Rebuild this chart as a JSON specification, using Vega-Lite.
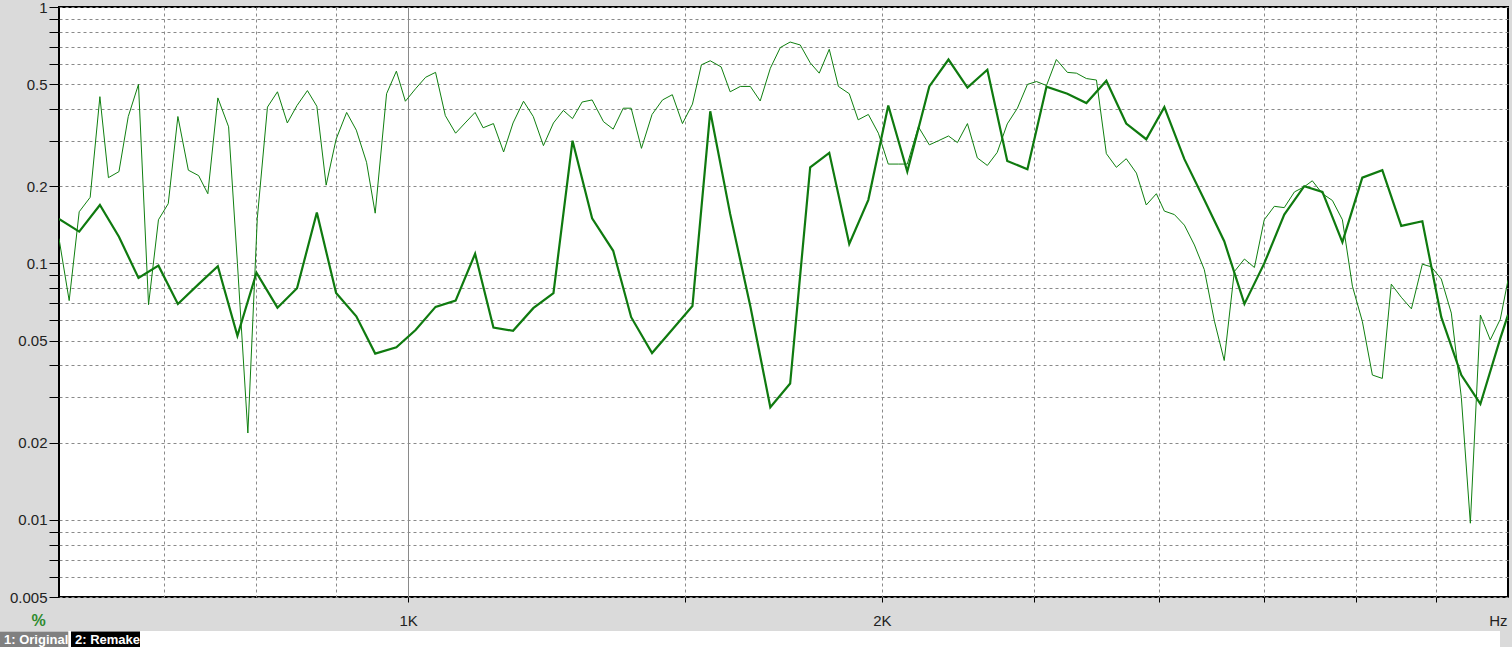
{
  "$schema": "https://vega.github.io/schema/vega-lite/v6.json",
  "width": 1449,
  "height": 590,
  "autosize": {"type": "none"},
  "padding": {"left": 59, "top": 7, "right": 4, "bottom": 50},
  "background": "#dadada",
  "config": {
    "view": {"fill": "#ffffff", "stroke": "#000000", "strokeWidth": 2},
    "legend": {
      "orient": "none",
      "legendX": -59,
      "legendY": 624,
      "direction": "horizontal",
      "titleOrient": "right",
      "titlePadding": 1360,
      "titleFontSize": 10,
      "padding": 0,
      "fillColor": "#ffffff",
      "columnPadding": 2,
      "symbolSize": 10404,
      "symbolType": "M-1.02,-0.157H0.98V0.157H-1.02Z",
      "symbolStrokeWidth": 0,
      "symbolOpacity": 1,
      "clipHeight": 17,
      "labelFont": "Liberation Sans",
      "labelFontSize": 13,
      "labelFontWeight": "bold",
      "labelColor": "#ffffff",
      "labelAlign": "left",
      "labelBaseline": "middle",
      "labelLimit": 300,
      "labelOffset": -98
    }
  },
  "data": {
    "values": [
      {"s":"Original","f":600,"v":0.125},{"s":"Original","f":609,"v":0.0716},{"s":"Original","f":618,"v":0.159},{"s":"Original","f":628,"v":0.181},{"s":"Original","f":637,"v":0.447},{"s":"Original","f":645,"v":0.216},{"s":"Original","f":655,"v":0.228},{"s":"Original","f":664,"v":0.374},{"s":"Original","f":674,"v":0.499},{"s":"Original","f":684,"v":0.069},{"s":"Original","f":694,"v":0.148},{"s":"Original","f":704,"v":0.171},{"s":"Original","f":714,"v":0.374},{"s":"Original","f":725,"v":0.231},{"s":"Original","f":736,"v":0.22},{"s":"Original","f":746,"v":0.187},{"s":"Original","f":757,"v":0.442},{"s":"Original","f":769,"v":0.341},{"s":"Original","f":779,"v":0.1},{"s":"Original","f":791,"v":0.0218},{"s":"Original","f":802,"v":0.15},{"s":"Original","f":814,"v":0.407},{"s":"Original","f":826,"v":0.467},{"s":"Original","f":838,"v":0.353},{"s":"Original","f":850,"v":0.413},{"s":"Original","f":863,"v":0.472},{"s":"Original","f":875,"v":0.41},{"s":"Original","f":887,"v":0.202},{"s":"Original","f":900,"v":0.305},{"s":"Original","f":914,"v":0.388},{"s":"Original","f":927,"v":0.331},{"s":"Original","f":941,"v":0.248},{"s":"Original","f":953,"v":0.157},{"s":"Original","f":969,"v":0.459},{"s":"Original","f":983,"v":0.562},{"s":"Original","f":996,"v":0.429},{"s":"Original","f":1011,"v":0.48},{"s":"Original","f":1026,"v":0.532},{"s":"Original","f":1041,"v":0.556},{"s":"Original","f":1056,"v":0.377},{"s":"Original","f":1072,"v":0.322},{"s":"Original","f":1087,"v":0.353},{"s":"Original","f":1103,"v":0.388},{"s":"Original","f":1116,"v":0.338},{"s":"Original","f":1133,"v":0.351},{"s":"Original","f":1150,"v":0.272},{"s":"Original","f":1166,"v":0.353},{"s":"Original","f":1184,"v":0.429},{"s":"Original","f":1201,"v":0.374},{"s":"Original","f":1219,"v":0.288},{"s":"Original","f":1237,"v":0.353},{"s":"Original","f":1255,"v":0.395},{"s":"Original","f":1272,"v":0.367},{"s":"Original","f":1290,"v":0.426},{"s":"Original","f":1309,"v":0.434},{"s":"Original","f":1331,"v":0.357},{"s":"Original","f":1350,"v":0.334},{"s":"Original","f":1370,"v":0.403},{"s":"Original","f":1386,"v":0.403},{"s":"Original","f":1407,"v":0.281},{"s":"Original","f":1429,"v":0.381},{"s":"Original","f":1451,"v":0.434},{"s":"Original","f":1472,"v":0.455},{"s":"Original","f":1494,"v":0.351},{"s":"Original","f":1516,"v":0.418},{"s":"Original","f":1536,"v":0.595},{"s":"Original","f":1556,"v":0.617},{"s":"Original","f":1581,"v":0.584},{"s":"Original","f":1602,"v":0.467},{"s":"Original","f":1626,"v":0.49},{"s":"Original","f":1650,"v":0.49},{"s":"Original","f":1674,"v":0.43},{"s":"Original","f":1699,"v":0.577},{"s":"Original","f":1724,"v":0.695},{"s":"Original","f":1749,"v":0.73},{"s":"Original","f":1775,"v":0.711},{"s":"Original","f":1801,"v":0.606},{"s":"Original","f":1825,"v":0.552},{"s":"Original","f":1852,"v":0.684},{"s":"Original","f":1877,"v":0.49},{"s":"Original","f":1907,"v":0.459},{"s":"Original","f":1932,"v":0.363},{"s":"Original","f":1961,"v":0.381},{"s":"Original","f":1990,"v":0.322},{"s":"Original","f":2019,"v":0.244},{"s":"Original","f":2049,"v":0.244},{"s":"Original","f":2076,"v":0.244},{"s":"Original","f":2110,"v":0.341},{"s":"Original","f":2144,"v":0.29},{"s":"Original","f":2173,"v":0.301},{"s":"Original","f":2205,"v":0.314},{"s":"Original","f":2234,"v":0.296},{"s":"Original","f":2267,"v":0.351},{"s":"Original","f":2300,"v":0.258},{"s":"Original","f":2334,"v":0.241},{"s":"Original","f":2368,"v":0.271},{"s":"Original","f":2403,"v":0.35},{"s":"Original","f":2439,"v":0.403},{"s":"Original","f":2475,"v":0.499},{"s":"Original","f":2508,"v":0.512},{"s":"Original","f":2545,"v":0.494},{"s":"Original","f":2582,"v":0.624},{"s":"Original","f":2624,"v":0.556},{"s":"Original","f":2659,"v":0.552},{"s":"Original","f":2698,"v":0.526},{"s":"Original","f":2738,"v":0.519},{"s":"Original","f":2778,"v":0.268},{"s":"Original","f":2819,"v":0.237},{"s":"Original","f":2860,"v":0.256},{"s":"Original","f":2903,"v":0.225},{"s":"Original","f":2945,"v":0.169},{"s":"Original","f":2989,"v":0.187},{"s":"Original","f":3024,"v":0.16},{"s":"Original","f":3069,"v":0.155},{"s":"Original","f":3114,"v":0.141},{"s":"Original","f":3160,"v":0.118},{"s":"Original","f":3206,"v":0.0946},{"s":"Original","f":3254,"v":0.0595},{"s":"Original","f":3301,"v":0.0418},{"s":"Original","f":3350,"v":0.0929},{"s":"Original","f":3400,"v":0.104},{"s":"Original","f":3450,"v":0.0964},{"s":"Original","f":3500,"v":0.148},{"s":"Original","f":3552,"v":0.167},{"s":"Original","f":3604,"v":0.165},{"s":"Original","f":3658,"v":0.19},{"s":"Original","f":3711,"v":0.199},{"s":"Original","f":3755,"v":0.21},{"s":"Original","f":3811,"v":0.187},{"s":"Original","f":3867,"v":0.176},{"s":"Original","f":3924,"v":0.148},{"s":"Original","f":3982,"v":0.0815},{"s":"Original","f":4040,"v":0.0595},{"s":"Original","f":4100,"v":0.0367},{"s":"Original","f":4160,"v":0.0356},{"s":"Original","f":4215,"v":0.083},{"s":"Original","f":4277,"v":0.0738},{"s":"Original","f":4341,"v":0.0665},{"s":"Original","f":4411,"v":0.0993},{"s":"Original","f":4469,"v":0.097},{"s":"Original","f":4535,"v":0.0869},{"s":"Original","f":4602,"v":0.064},{"s":"Original","f":4670,"v":0.03},{"s":"Original","f":4732,"v":0.0097},{"s":"Original","f":4802,"v":0.0629},{"s":"Original","f":4872,"v":0.0503},{"s":"Original","f":4944,"v":0.0606},{"s":"Original","f":5000,"v":0.086},
      {"s":"Remake","f":600,"v":0.149},{"s":"Remake","f":618,"v":0.133},{"s":"Remake","f":637,"v":0.169},{"s":"Remake","f":655,"v":0.127},{"s":"Remake","f":674,"v":0.0878},{"s":"Remake","f":694,"v":0.098},{"s":"Remake","f":714,"v":0.0695},{"s":"Remake","f":736,"v":0.083},{"s":"Remake","f":757,"v":0.0975},{"s":"Remake","f":779,"v":0.0522},{"s":"Remake","f":801,"v":0.092},{"s":"Remake","f":826,"v":0.0672},{"s":"Remake","f":850,"v":0.08},{"s":"Remake","f":875,"v":0.158},{"s":"Remake","f":900,"v":0.0766},{"s":"Remake","f":927,"v":0.0622},{"s":"Remake","f":953,"v":0.0445},{"s":"Remake","f":983,"v":0.0471},{"s":"Remake","f":1011,"v":0.055},{"s":"Remake","f":1041,"v":0.0677},{"s":"Remake","f":1072,"v":0.0716},{"s":"Remake","f":1103,"v":0.109},{"s":"Remake","f":1133,"v":0.0562},{"s":"Remake","f":1166,"v":0.0546},{"s":"Remake","f":1201,"v":0.0669},{"s":"Remake","f":1237,"v":0.0766},{"s":"Remake","f":1272,"v":0.301},{"s":"Remake","f":1309,"v":0.15},{"s":"Remake","f":1350,"v":0.112},{"s":"Remake","f":1386,"v":0.0617},{"s":"Remake","f":1429,"v":0.0447},{"s":"Remake","f":1472,"v":0.0552},{"s":"Remake","f":1516,"v":0.0682},{"s":"Remake","f":1556,"v":0.392},{"s":"Remake","f":1602,"v":0.156},{"s":"Remake","f":1650,"v":0.068},{"s":"Remake","f":1699,"v":0.0275},{"s":"Remake","f":1749,"v":0.034},{"s":"Remake","f":1801,"v":0.237},{"s":"Remake","f":1852,"v":0.27},{"s":"Remake","f":1907,"v":0.119},{"s":"Remake","f":1961,"v":0.177},{"s":"Remake","f":2019,"v":0.413},{"s":"Remake","f":2076,"v":0.228},{"s":"Remake","f":2144,"v":0.49},{"s":"Remake","f":2205,"v":0.624},{"s":"Remake","f":2267,"v":0.485},{"s":"Remake","f":2334,"v":0.569},{"s":"Remake","f":2403,"v":0.251},{"s":"Remake","f":2475,"v":0.233},{"s":"Remake","f":2545,"v":0.489},{"s":"Remake","f":2624,"v":0.459},{"s":"Remake","f":2698,"v":0.422},{"s":"Remake","f":2778,"v":0.516},{"s":"Remake","f":2860,"v":0.351},{"s":"Remake","f":2945,"v":0.305},{"s":"Remake","f":3024,"v":0.407},{"s":"Remake","f":3114,"v":0.255},{"s":"Remake","f":3206,"v":0.177},{"s":"Remake","f":3301,"v":0.122},{"s":"Remake","f":3400,"v":0.0695},{"s":"Remake","f":3500,"v":0.1},{"s":"Remake","f":3604,"v":0.155},{"s":"Remake","f":3711,"v":0.2},{"s":"Remake","f":3811,"v":0.19},{"s":"Remake","f":3924,"v":0.121},{"s":"Remake","f":4040,"v":0.216},{"s":"Remake","f":4160,"v":0.231},{"s":"Remake","f":4277,"v":0.14},{"s":"Remake","f":4411,"v":0.146},{"s":"Remake","f":4535,"v":0.0617},{"s":"Remake","f":4670,"v":0.0367},{"s":"Remake","f":4802,"v":0.0283},{"s":"Remake","f":4944,"v":0.051},{"s":"Remake","f":5000,"v":0.063}
    ]
  },
  "encoding": {
    "x": {
      "field": "f", "type": "quantitative",
      "scale": {"type": "log", "domain": [600, 5000], "nice": false, "zero": false},
      "axis": {
        "values": [700, 800, 900, 1000, 1500, 2000, 2500, 3000, 3500, 4000, 4500],
        "domain": false,
        "grid": true,
        "gridWidth": 1,
        "gridColor": "#8a8a8a",
        "gridDash": {"condition": {"test": "datum.value == 1000", "value": []}, "value": [3, 3]},
        "ticks": true,
        "tickSize": 5,
        "tickWidth": 1,
        "tickColor": {"condition": {"test": "datum.value < 1000", "value": "transparent"}, "value": "#000000"},
        "labelExpr": "datum.value == 1000 ? '1K' : (datum.value == 2000 ? '2K' : '')",
        "labelFont": "Liberation Sans",
        "labelFontSize": 15,
        "labelColor": "#222222",
        "labelBaseline": "alphabetic",
        "labelPadding": 23,
        "labelFlush": false,
        "labelOverlap": false,
        "labelBound": false,
        "title": "Hz",
        "titleX": 1448,
        "titleY": 28,
        "titleAlign": "right",
        "titleBaseline": "alphabetic",
        "titleFont": "Liberation Sans",
        "titleFontSize": 15,
        "titleFontWeight": "normal",
        "titleColor": "#222222"
      }
    },
    "y": {
      "field": "v", "type": "quantitative",
      "scale": {"type": "log", "domain": [0.005, 1], "nice": false, "zero": false},
      "axis": {
        "values": [0.005, 0.006, 0.007, 0.008, 0.009, 0.01, 0.02, 0.03, 0.04, 0.05, 0.06, 0.07, 0.08, 0.09, 0.1, 0.2, 0.3, 0.4, 0.5, 0.6, 0.7, 0.8, 0.9, 1],
        "domain": false,
        "grid": true,
        "gridWidth": 1,
        "gridColor": "#8a8a8a",
        "gridDash": [3, 3],
        "ticks": true,
        "tickSize": 10,
        "tickWidth": 1,
        "tickColor": "#000000",
        "labelExpr": "indexof([1, 0.5, 0.2, 0.1, 0.05, 0.02, 0.01, 0.005], datum.value) >= 0 ? format(datum.value, '~g') : ''",
        "labelFont": "Liberation Sans",
        "labelFontSize": 15,
        "labelColor": "#222222",
        "labelPadding": 2,
        "labelFlush": false,
        "labelOverlap": false,
        "labelBound": false,
        "title": "%",
        "titleAngle": 0,
        "titleX": -21,
        "titleY": 618,
        "titleAlign": "center",
        "titleBaseline": "alphabetic",
        "titleFont": "Liberation Sans",
        "titleFontSize": 16,
        "titleFontWeight": "bold",
        "titleColor": "#2e8b2e"
      }
    }
  },
  "layer": [
    {
      "transform": [{"filter": "datum.s == 'Original'"}],
      "mark": {"type": "line", "color": "#0f7f0f", "strokeWidth": 1, "clip": true}
    },
    {
      "transform": [{"filter": "datum.s == 'Remake'"}],
      "mark": {"type": "line", "color": "#0f7a0f", "strokeWidth": 2.2, "clip": true}
    },
    {
      "transform": [{"filter": "false"}],
      "mark": {"type": "point", "filled": true, "color": "#000000", "shape": "M-1.02,-0.157H0.98V0.157H-1.02Z"},
      "encoding": {
        "fill": {
          "field": "s", "type": "nominal",
          "scale": {"domain": ["1: Original", "2: Remake"], "range": ["#808080", "#000000"]},
          "legend": {
            "title": " ",
            "labelExpr": "datum.label == '1: Original' ? '1: Original\u00a0\u00a0\u00a0\u00a0' : '\u00a0\u00a0\u00a0\u00a02: Remake\u00a0\u00a0\u00a0\u00a0\u00a0'",
            "encode": {"symbols": {"update": {"size": {"value": 10404}}}}
          }
        }
      }
    }
  ]
}
